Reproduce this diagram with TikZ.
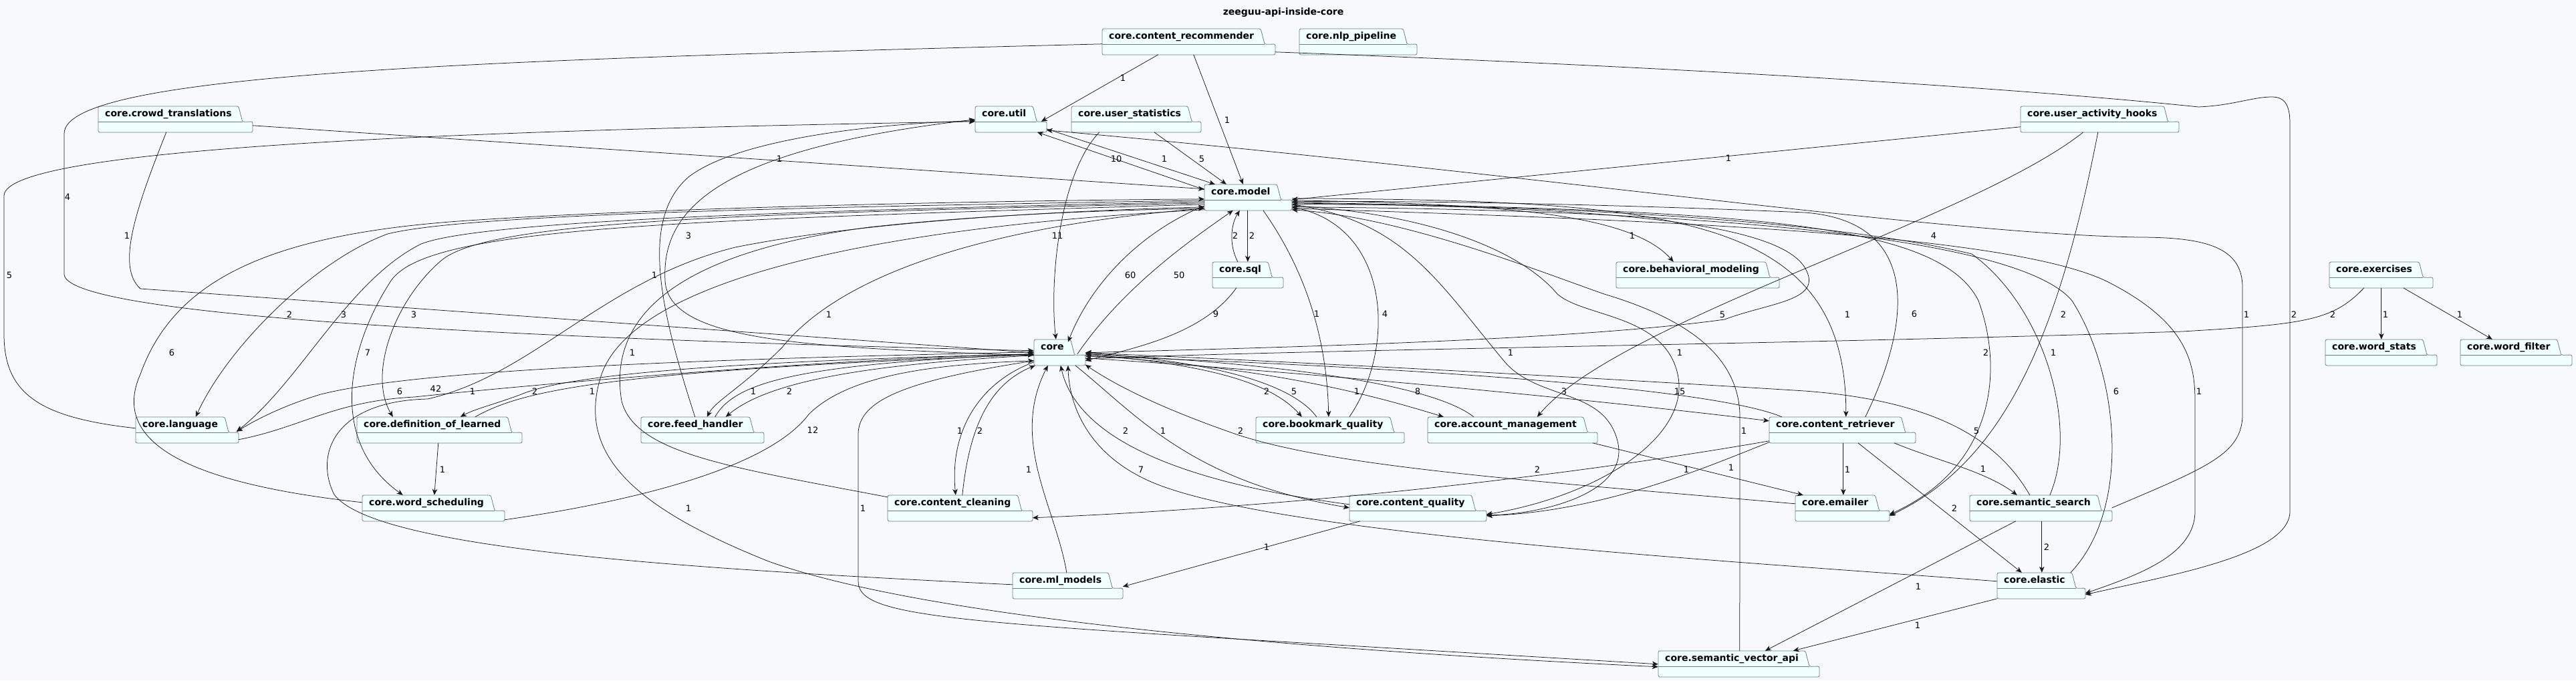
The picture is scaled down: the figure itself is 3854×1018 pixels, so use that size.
\documentclass[tikz,border=0pt]{standalone}
\usepackage{fontspec}
\setmainfont{DejaVu Sans}
\usetikzlibrary{arrows.meta,calc,fit}
\definecolor{pagebg}{HTML}{F8F9FC}
\definecolor{pkgfill}{HTML}{F1FFFF}
\definecolor{pkgedge}{HTML}{6E7E80}
\definecolor{linecol}{HTML}{181818}
\pgfdeclarelayer{bg}
\pgfsetlayers{bg,main}
\tikzset{
  pkgtab/.style={anchor=north west, inner xsep=10pt, inner ysep=0pt, minimum height=23pt,
    text height=10.5pt, text depth=3pt, font=\fontsize{14}{16}\selectfont\bfseries},
  pkgline/.style={draw=pkgedge, line width=0.8pt},
  pkgbox/.style={inner sep=0pt, draw=none},
  dep/.style={draw=linecol, line width=0.75pt, -{Stealth[length=9pt,width=7.5pt,inset=2.5pt]}},
  lbl/.style={font=\fontsize{13}{15}\selectfont, inner sep=1pt}
}
% name, left, top, right, text
\newcommand\pkgnode[5]{%
  \node[pkgtab] (#1-tab) at (#2,#3) {#5};
  \begin{pgfonlayer}{bg}
    \filldraw[pkgline, fill=pkgfill, rounded corners=2.5pt] (#2,{#3+39}) -- (#1-tab.north west)
      -- (#1-tab.north east) -- ([xshift=6pt]#1-tab.south east) -- ({#4},{#3+23}) -- ({#4},{#3+39}) -- cycle;
  \end{pgfonlayer}
  \draw[pkgline] (#1-tab.south west) -- ([xshift=6pt]#1-tab.south east);
  \path (#2,#3) coordinate (#1-nw) ({#4},{#3+39}) coordinate (#1-se);
  \node[pkgbox, fit=(#1-nw)(#1-se)] (#1) {};
}

\begin{document}
\begin{tikzpicture}[x=1pt,y=-1pt]
        %背景
        \begin{pgfonlayer}{bg}
          \fill[pagebg] (0,0) rectangle (3854,1018);
        \end{pgfonlayer}
        \useasboundingbox (0,0) rectangle (3854,1018);
        %标题
        \node[font=\fontsize{14}{16}\selectfont\bfseries] (title) at (1920,19) {zeeguu-api-inside-core};
        %包
        \pkgnode{rec}{1649}{43}{1908}{core.content\_recommender}
        \pkgnode{nlp}{1944}{43}{2120}{core.nlp\_pipeline}
        \pkgnode{crowd}{147}{159}{378}{core.crowd\_translations}
        \pkgnode{util}{1459}{159}{1566}{core.util}
        \pkgnode{ustats}{1603}{159}{1797}{core.user\_statistics}
        \pkgnode{uah}{3023}{159}{3260}{core.user\_activity\_hooks}
        \pkgnode{model}{1802}{276}{1933}{core.model}
        \pkgnode{sql}{1814}{392}{1920}{core.sql}
        \pkgnode{behav}{2418}{392}{2662}{core.behavioral\_modeling}
        \pkgnode{exer}{3485}{392}{3640}{core.exercises}
        \pkgnode{core}{1547}{508}{1624}{core}
        \pkgnode{wstats}{3479}{508}{3646}{core.word\_stats}
        \pkgnode{wfilter}{3681}{508}{3848}{core.word\_filter}
        \pkgnode{lang}{203}{624}{357}{core.language}
        \pkgnode{defl}{534}{624}{781}{core.definition\_of\_learned}
        \pkgnode{feed}{959}{624}{1143}{core.feed\_handler}
        \pkgnode{bmq}{1879}{624}{2101}{core.bookmark\_quality}
        \pkgnode{acct}{2136}{624}{2390}{core.account\_management}
        \pkgnode{retr}{2647}{624}{2866}{core.content\_retriever}
        \pkgnode{wsch}{542}{741}{755}{core.word\_scheduling}
        \pkgnode{clean}{1328}{741}{1545}{core.content\_cleaning}
        \pkgnode{cq}{2019}{741}{2224}{core.content\_quality}
        \pkgnode{email}{2686}{741}{2827}{core.emailer}
        \pkgnode{ssearch}{2947}{741}{3160}{core.semantic\_search}
        \pkgnode{ml}{1515}{857}{1680}{core.ml\_models}
        \pkgnode{elastic}{2988}{857}{3120}{core.elastic}
        \pkgnode{svapi}{2481}{974}{2722}{core.semantic\_vector\_api}
        %上部依赖
        \draw[dep] ($(rec.north west)+(84,39)$) -- ($(util.north west)+(99,23)$) node[lbl] at (1680,117) {1};
        \draw[dep] ($(rec.north west)+(137,39)$) -- ($(model.north west)+(58,0)$) node[lbl] at (1836,180) {1};
        \draw[dep] ($(rec.north west)+(0,23)$) .. controls (700,90) and (96,110) .. (96,200) -- (96,410) .. controls (96,470) and (700,505) .. ($(core.north west)+(0,17)$) node[lbl] at (101,295) {4};
        \draw[dep] ($(rec.north west)+(259,35)$) .. controls (2500,100) and (3000,130) .. (3289,160) .. controls (3340,158) and (3370,145) .. (3399,145) .. controls (3420,145) and (3426,160) .. (3426,185) -- (3426,765) .. controls (3426,830) and (3250,860) .. ($(elastic.north west)+(132,33)$) node[lbl] at (3432,471) {2};
        \draw[dep] ($(crowd.north west)+(231,29)$) -- ($(model.north west)+(0,7)$) node[lbl] at (1166,238) {1};
        \draw[dep] ($(crowd.north west)+(102,39)$) .. controls (200,320) and (175,400) .. (210,432) -- ($(core.north west)+(0,20)$) node[lbl] at (190,353) {1};
        \draw[dep] ($(lang.north west)+(0,17)$) .. controls (60,625) and (6,590) .. (6,500) -- (6,293) .. controls (6,220) and (700,195) .. ($(util.north west)+(0,23)$) node[lbl] at (14,412) {5};
        \draw[dep] ($(core.north west)+(0,24)$) .. controls (1200,520) and (1000,510) .. (995,420) .. controls (990,320) and (1060,225) .. ($(util.north west)+(0,20)$) node[lbl] at (1030,353) {3};
        \draw[dep] ($(feed.north west)+(81,0)$) .. controls (990,470) and (955,330) .. (1030,265) .. controls (1100,210) and (1300,185) .. ($(util.north west)+(0,22)$) node[lbl] at (979,412) {1};
        \draw[dep] ($(model.north west)+(0,8)$) -- ($(util.north west)+(93,39)$) node[lbl] at (1670,238) {10};
        \draw[dep] ($(util.north west)+(107,34)$) -- ($(model.north west)+(16,0)$) node[lbl] at (1742,238) {1};
        \draw[dep] ($(ustats.north west)+(124,39)$) -- ($(model.north west)+(33,0)$) node[lbl] at (1798,238) {5};
        \draw[dep] ($(ustats.north west)+(42,39)$) .. controls (1585,260) and (1570,420) .. ($(core.north west)+(33,0)$) node[lbl] at (1582,353) {11};
        \draw[dep] ($(uah.north west)+(0,31)$) -- ($(model.north west)+(131,23)$) node[lbl] at (2586,237) {1};
        \draw[dep] ($(uah.north west)+(94,39)$) .. controls (2950,330) and (2420,480) .. ($(acct.north west)+(164,0)$) node[lbl] at (2893,353) {4};
        \draw[dep] ($(uah.north west)+(116,39)$) .. controls (3080,500) and (3000,690) .. ($(email.north west)+(141,31)$) node[lbl] at (3087,471) {2};
        \draw[dep] ($(model.north west)+(131,24)$) .. controls (2250,305) and (2440,320) .. ($(behav.north west)+(86,0)$) node[lbl] at (2442,353) {1};
        \draw[dep] ($(model.north west)+(65,39)$) -- ($(sql.north west)+(53,0)$) node[lbl] at (1873,353) {2};
        \draw[dep] ($(sql.north west)+(38,0)$) .. controls (1838,365) and (1842,335) .. ($(model.north west)+(53,39)$) node[lbl] at (1848,353) {2};
        \draw[dep] ($(sql.north west)+(36,39)$) .. controls (1800,500) and (1700,520) .. ($(core.north west)+(77,32)$) node[lbl] at (1819,470) {9};
        \draw[dep] ($(model.north west)+(0,32)$) .. controls (1700,350) and (1630,430) .. ($(core.north west)+(51,4)$) node[lbl] at (1691,412) {60};
        \draw[dep] ($(core.north west)+(65,22)$) .. controls (1680,430) and (1780,360) .. ($(model.north west)+(43,39)$) node[lbl] at (1764,412) {50};
        \draw[dep] ($(model.north west)+(88,39)$) .. controls (1950,400) and (1985,500) .. ($(bmq.north west)+(109,0)$) node[lbl] at (1970,470) {1};
        \draw[dep] ($(bmq.north west)+(140,0)$) .. controls (2090,520) and (2080,340) .. ($(model.north west)+(131,34)$) node[lbl] at (2072,470) {4};
        \draw[dep] ($(model.north west)+(131,21)$) .. controls (2500,300) and (2762,320) .. ($(retr.north west)+(115,0)$) node[lbl] at (2764,471) {1};
        \draw[dep] ($(retr.north west)+(144,0)$) .. controls (2870,460) and (2860,330) .. (2700,318) .. controls (2400,305) and (2100,300) .. ($(model.north west)+(131,26)$) node[lbl] at (2864,470) {6};
        \draw[dep] ($(model.north west)+(131,27)$) .. controls (2600,315) and (2900,330) .. (2960,450) .. controls (3000,560) and (2980,700) .. ($(email.north west)+(141,29)$) node[lbl] at (2971,528) {2};
        \draw[dep] ($(ssearch.north west)+(120,0)$) .. controls (3110,640) and (3060,460) .. (2950,380) .. controls (2700,320) and (2200,305) .. ($(model.north west)+(131,30)$) node[lbl] at (3072,528) {1};
        \draw[dep] ($(elastic.north west)+(110,0)$) .. controls (3190,760) and (3170,560) .. (3100,450) .. controls (3000,330) and (2300,312) .. ($(model.north west)+(131,34)$) node[lbl] at (3166,586) {6};
        \draw[dep] ($(model.north west)+(131,36)$) .. controls (2500,330) and (3000,350) .. (3150,420) .. controls (3270,480) and (3284,540) .. (3284,600) -- (3284,765) .. controls (3284,830) and (3200,860) .. ($(elastic.north west)+(132,31)$) node[lbl] at (3290,586) {1};
        \draw[dep] ($(ssearch.north west)+(213,19)$) .. controls (3300,700) and (3355,680) .. (3355,620) -- (3355,430) .. controls (3355,370) and (3300,355) .. (3200,355) .. controls (2900,350) and (2300,260) .. ($(util.north west)+(107,36)$) node[lbl] at (3361,471) {1};
        \draw[dep] ($(exer.north west)+(52,39)$) .. controls (3490,480) and (3450,485) .. (3265,496) .. controls (2700,515) and (2000,522) .. ($(core.north west)+(77,29)$) node[lbl] at (3490,471) {2};
        \draw[dep] ($(exer.north west)+(78,39)$) -- ($(wstats.north west)+(84,0)$) node[lbl] at (3569,471) {1};
        \draw[dep] ($(exer.north west)+(111,39)$) -- ($(wfilter.north west)+(48,0)$) node[lbl] at (3680,471) {1};
        %左部依赖
        \draw[dep] ($(model.north west)+(0,24)$) .. controls (1200,310) and (700,320) .. (580,350) .. controls (470,390) and (340,520) .. ($(lang.north west)+(90,0)$) node[lbl] at (433,471) {2};
        \draw[dep] ($(model.north west)+(0,26)$) .. controls (1200,315) and (720,330) .. (630,365) .. controls (520,420) and (450,570) .. ($(lang.north west)+(151,22)$) node[lbl] at (514,471) {3};
        \draw[dep] ($(model.north west)+(0,28)$) .. controls (1100,320) and (730,330) .. (660,390) .. controls (590,450) and (550,560) .. ($(defl.north west)+(54,0)$) node[lbl] at (619,471) {3};
        \draw[dep] ($(model.north west)+(0,30)$) .. controls (1000,330) and (640,340) .. (585,420) .. controls (520,520) and (490,660) .. ($(wsch.north west)+(61,0)$) node[lbl] at (550,528) {7};
        \draw[dep] ($(wsch.north west)+(0,11)$) .. controls (250,720) and (170,650) .. (210,560) .. controls (260,420) and (400,350) .. (700,330) .. controls (1000,310) and (1500,300) .. ($(model.north west)+(0,22)$) node[lbl] at (257,528) {6};
        \draw[dep] ($(core.north west)+(0,19)$) .. controls (900,540) and (600,560) .. (480,590) .. controls (420,608) and (380,630) .. ($(lang.north west)+(151,22)$) node[lbl] at (598,586) {6};
        \draw[dep] ($(lang.north west)+(154,34)$) .. controls (450,640) and (500,600) .. (620,594) .. controls (900,565) and (1300,535) .. ($(core.north west)+(0,22)$) node[lbl] at (652,582) {42};
        \draw[dep] ($(ml.north west)+(0,18)$) .. controls (1000,850) and (560,820) .. (500,740) .. controls (470,680) and (500,600) .. (640,597) .. controls (800,560) and (900,420) .. (1100,370) .. controls (1300,330) and (1600,315) .. ($(model.north west)+(0,34)$) node[lbl] at (707,586) {1};
        \draw[dep] ($(core.north west)+(0,22)$) .. controls (1100,540) and (850,560) .. (780,590) .. controls (740,605) and (710,612) .. ($(defl.north west)+(155,0)$) node[lbl] at (800,586) {2};
        \draw[dep] ($(defl.north west)+(177,0)$) .. controls (780,585) and (900,555) .. ($(core.north west)+(0,23)$) node[lbl] at (886,586) {1};
        \draw[dep] ($(defl.north west)+(122,39)$) -- ($(wsch.north west)+(108,0)$) node[lbl] at (662,703) {1};
        \draw[dep] ($(model.north west)+(0,36)$) .. controls (1450,340) and (1250,420) .. (1170,520) .. controls (1110,580) and (1070,600) .. ($(feed.north west)+(99,0)$) node[lbl] at (1240,471) {1};
        \draw[dep] ($(feed.north west)+(111,0)$) .. controls (1100,570) and (1200,545) .. ($(core.north west)+(0,22)$) node[lbl] at (1127,586) {1};
        \draw[dep] ($(core.north west)+(0,24)$) .. controls (1300,545) and (1150,570) .. ($(feed.north west)+(127,0)$) node[lbl] at (1181,586) {2};
        \draw[dep] ($(wsch.north west)+(213,37)$) .. controls (950,750) and (1150,700) .. (1210,620) .. controls (1270,560) and (1400,545) .. ($(core.north west)+(0,32)$) node[lbl] at (1216,644) {12};
        \draw[dep] ($(clean.north west)+(0,3)$) .. controls (1100,700) and (950,680) .. (930,600) .. controls (910,480) and (1000,380) .. (1300,340) .. controls (1500,318) and (1700,314) .. ($(model.north west)+(0,36)$) node[lbl] at (946,528) {1};
        %下部依赖
        \draw[dep] ($(core.north west)+(0,34)$) .. controls (1470,570) and (1420,640) .. ($(clean.north west)+(102,0)$) node[lbl] at (1436,645) {1};
        \draw[dep] ($(clean.north west)+(112,0)$) .. controls (1450,640) and (1480,575) .. ($(core.north west)+(2,39)$) node[lbl] at (1466,645) {2};
        \draw[dep] ($(ml.north west)+(81,0)$) .. controls (1580,760) and (1510,660) .. ($(core.north west)+(21,39)$) node[lbl] at (1539,703) {1};
        \draw[dep] ($(cq.north west)+(0,14)$) .. controls (1750,720) and (1610,650) .. ($(core.north west)+(40,39)$) node[lbl] at (1684,645) {2};
        \draw[dep] ($(core.north west)+(62,39)$) .. controls (1700,620) and (1780,720) .. ($(cq.north west)+(0,19)$) node[lbl] at (1740,645) {1};
        \draw[dep] ($(elastic.north west)+(0,13)$) .. controls (2600,840) and (1900,800) .. (1720,720) .. controls (1630,680) and (1600,610) .. ($(core.north west)+(51,39)$) node[lbl] at (1707,703) {7};
        \draw[dep] ($(core.north west)+(0,32)$) .. controls (1350,570) and (1284,600) .. (1284,650) -- (1284,870) .. controls (1284,920) and (1400,930) .. (2000,965) -- ($(svapi.north west)+(0,20)$) node[lbl] at (1291,761) {1};
        \draw[dep] ($(model.north west)+(0,38)$) .. controls (1300,340) and (950,420) .. (900,560) .. controls (860,680) and (950,760) .. (1150,840) .. controls (1400,930) and (2000,975) .. ($(svapi.north west)+(0,24)$) node[lbl] at (1030,761) {1};
        \draw[dep] ($(svapi.north west)+(122,0)$) -- (2603,620) .. controls (2600,520) and (2500,470) .. (2400,440) .. controls (2300,405) and (2100,325) .. ($(model.north west)+(131,38)$) node[lbl] at (2609,645) {1};
        \draw[dep] ($(retr.north west)+(0,36)$) .. controls (2300,720) and (1900,760) .. ($(clean.north west)+(217,34)$) node[lbl] at (2300,703) {2};
        \draw[dep] ($(retr.north west)+(0,38)$) .. controls (2550,700) and (2400,765) .. ($(cq.north west)+(205,31)$) node[lbl] at (2523,703) {1};
        \draw[dep] ($(acct.north west)+(247,39)$) -- ($(email.north west)+(12,0)$) node[lbl] at (2590,700) {1};
        \draw[dep] ($(retr.north west)+(111,39)$) -- ($(email.north west)+(72,0)$) node[lbl] at (2764,703) {1};
        \draw[dep] ($(retr.north west)+(187,39)$) .. controls (2900,690) and (2970,705) .. ($(ssearch.north west)+(71,0)$) node[lbl] at (2967,702) {1};
        \draw[dep] ($(retr.north west)+(133,39)$) -- ($(elastic.north west)+(37,0)$) node[lbl] at (2924,761) {2};
        \draw[dep] ($(ssearch.north west)+(90,0)$) .. controls (2990,660) and (2900,600) .. (2700,585) .. controls (2300,560) and (1900,540) .. ($(core.north west)+(77,20)$) node[lbl] at (2957,645) {5};
        \draw[dep] ($(ssearch.north west)+(108,39)$) -- ($(elastic.north west)+(67,0)$) node[lbl] at (3062,819) {2};
        \draw[dep] ($(ssearch.north west)+(69,39)$) -- ($(svapi.north west)+(160,0)$) node[lbl] at (2870,878) {1};
        \draw[dep] ($(elastic.north west)+(0,39)$) -- ($(svapi.north west)+(202,0)$) node[lbl] at (2869,936) {1};
        \draw[dep] ($(email.north west)+(0,13)$) .. controls (2300,720) and (2000,700) .. (1850,650) .. controls (1720,605) and (1660,570) .. ($(core.north west)+(77,38)$) node[lbl] at (1856,645) {2};
        \draw[dep] ($(cq.north west)+(16,39)$) -- ($(ml.north west)+(165,21)$) node[lbl] at (1895,819) {1};
        %中部依赖
        \draw[dep] ($(core.north west)+(77,22)$) .. controls (1800,545) and (1900,570) .. ($(bmq.north west)+(69,0)$) node[lbl] at (1895,586) {2};
        \draw[dep] ($(bmq.north west)+(91,0)$) .. controls (1930,570) and (1800,540) .. ($(core.north west)+(77,20)$) node[lbl] at (1936,586) {5};
        \draw[dep] ($(core.north west)+(77,24)$) .. controls (1900,550) and (2050,590) .. ($(acct.north west)+(24,0)$) node[lbl] at (2030,586) {1};
        \draw[dep] ($(acct.north west)+(69,0)$) .. controls (2150,580) and (1950,545) .. ($(core.north west)+(77,22)$) node[lbl] at (2121,586) {8};
        \draw[dep] ($(core.north west)+(77,28)$) .. controls (2000,560) and (2400,600) .. ($(retr.north west)+(0,6)$) node[lbl] at (2340,586) {3};
        \draw[dep] ($(retr.north west)+(19,0)$) .. controls (2550,575) and (2000,545) .. ($(core.north west)+(77,25)$) node[lbl] at (2513,586) {15};
        \draw[dep] ($(model.north west)+(131,30)$) .. controls (2100,330) and (2150,420) .. (2250,540) .. controls (2300,600) and (2400,580) .. (2420,660) .. controls (2440,740) and (2300,770) .. ($(cq.north west)+(205,30)$) node[lbl] at (2260,528) {1};
        \draw[dep] ($(model.north west)+(131,32)$) .. controls (2150,320) and (2280,380) .. (2330,440) .. controls (2370,475) and (2490,470) .. (2510,560) .. controls (2530,650) and (2400,740) .. ($(cq.north west)+(205,29)$) node[lbl] at (2513,528) {1};
        \draw[dep] ($(model.north west)+(131,28)$) .. controls (2300,310) and (2650,320) .. (2700,400) .. controls (2730,450) and (2650,452) .. (2580,478) .. controls (2350,510) and (1900,520) .. ($(core.north west)+(77,20)$) node[lbl] at (2577,471) {5};
    \end{tikzpicture}
\end{document}
